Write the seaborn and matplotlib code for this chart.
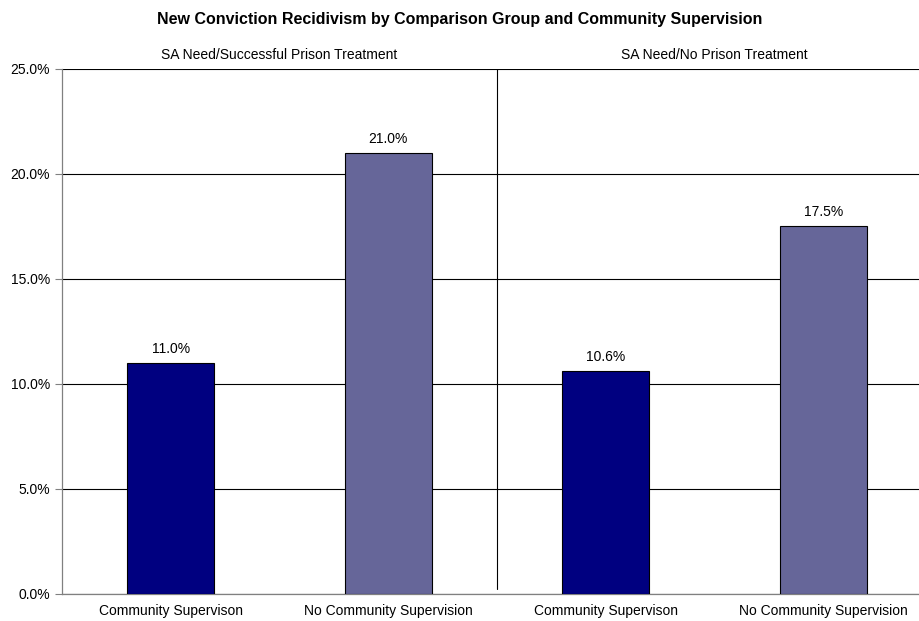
import matplotlib
matplotlib.use('Agg')
import matplotlib.pyplot as plt
import numpy as np
import pandas as pd
import seaborn as sns

# data
groups = ['SA Need/Successful Prison Treatment', 'SA Need/No Prison Treatment']
supervision = ['Community Supervison', 'No Community Supervision']
rates = [11.0, 21.0, 10.6, 17.5]
bar_colors = ['#000080', '#666699']

rows = []
for gi, g in enumerate(groups):
    for si, s in enumerate(supervision):
        rows.append({'key': f'{gi}-{si}', 'group': g, 'sup': s,
                     'rate': rates[gi * 2 + si]})
df = pd.DataFrame(rows)

sns.set_style('white')
plt.rcParams['font.family'] = ['Liberation Sans', 'DejaVu Sans']
plt.rcParams['text.color'] = 'black'
plt.rcParams['xtick.color'] = 'black'
plt.rcParams['ytick.color'] = 'black'

fig = plt.figure(figsize=(9.2, 6.21), dpi=100)
ax = fig.add_axes([0.0674, 0.0435, 0.946, 0.8455])

sns.barplot(data=df, x='key', y='rate', hue='sup', palette=bar_colors,
            saturation=1, dodge=False, width=0.4, edgecolor='black',
            linewidth=0.8, legend=False, ax=ax, zorder=3)

ax.set_ylim(0, 25)
ax.set_xlim(-0.5, 3.5)
ax.set_yticks(np.arange(0, 25.1, 5))
ax.set_yticklabels([f'{v:.1f}%' for v in np.arange(0, 25.1, 5)], fontsize=10)
ax.yaxis.grid(True, color='black', linewidth=0.8, zorder=0)
ax.set_axisbelow(True)

# category labels centred, tick marks on boundaries
ax.set_xticks(range(4))
ax.set_xticklabels([s for g in groups for s in supervision], fontsize=10)
ax.tick_params(axis='x', length=0, pad=7)
ax.set_xticks([-0.5, 0.5, 1.5, 2.5, 3.5], minor=True)
ax.tick_params(axis='x', which='minor', length=5, color='#808080', width=0.8)
ax.tick_params(axis='y', length=5, color='#808080', width=0.8, left=True)
ax.set_xlabel('')
ax.set_ylabel('')

for side in ['top', 'right']:
    ax.spines[side].set_visible(False)
for side in ['left', 'bottom']:
    ax.spines[side].set_color('#808080')
    ax.spines[side].set_linewidth(0.9)

# divider between comparison groups
ax.axvline(1.5, ymin=0.01, ymax=1, color='black', linewidth=0.8, zorder=2)

for i, v in enumerate(rates):
    ax.text(i, v + 0.35, f'{v:.1f}%', ha='center', va='bottom', fontsize=10)

for gi, g in enumerate(groups):
    ax.text(gi * 2 + 0.5, 25.35, g, ha='center', va='bottom', fontsize=10)

fig.text(0.5, 0.969, 'New Conviction Recidivism by Comparison Group and Community Supervision',
         ha='center', va='center', fontsize=11.5, fontweight='bold')

fig.savefig('out.png', dpi=100)
